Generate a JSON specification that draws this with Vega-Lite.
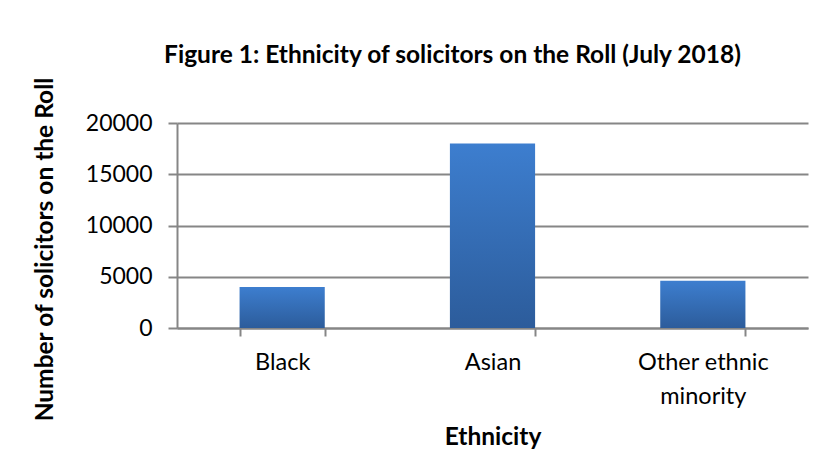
{
  "$schema": "https://vega.github.io/schema/vega-lite/v6.json",
  "autosize": "none",
  "width": 631,
  "height": 205,
  "padding": {"left": 177, "top": 123, "right": 24, "bottom": 143},
  "background": "white",
  "title": {
    "text": "Figure 1: Ethnicity of solicitors on the Roll (July 2018)",
    "font": "Lato",
    "fontSize": 24.5,
    "fontWeight": "bold",
    "color": "black",
    "anchor": "middle",
    "frame": "group",
    "dx": -40,
    "dy": 28,
    "offset": 36
  },
  "data": {
    "values": [
      {"ethnicity": "Black", "count": 4000},
      {"ethnicity": "Asian", "count": 18000},
      {"ethnicity": "Other ethnic minority", "count": 4600}
    ]
  },
  "mark": {
    "type": "bar",
    "color": {
      "gradient": "linear",
      "x1": 0, "y1": 0, "x2": 0, "y2": 1,
      "stops": [
        {"offset": 0, "color": "#3D7ECF"},
        {"offset": 1, "color": "#2C5C9B"}
      ]
    }
  },
  "encoding": {
    "x": {
      "field": "ethnicity",
      "type": "nominal",
      "sort": null,
      "scale": {"paddingInner": 0.595, "paddingOuter": 0.2975},
      "axis": {
        "title": "Ethnicity",
        "titleFont": "Lato",
        "titleFontSize": 24.5,
        "titleFontWeight": "bold",
        "titleColor": "black",
        "titlePadding": 18,
        "labelFont": "Lato",
        "labelFontSize": 23.5,
        "labelColor": "black",
        "labelAngle": 0,
        "labelPadding": 14,
        "labelLineHeight": 34,
        "labelExpr": "datum.value == 'Other ethnic minority' ? ['Other ethnic', 'minority'] : datum.value",
        "tickBand": "extent",
        "tickSize": 8,
        "tickWidth": 2,
        "tickColor": "#868686",
        "domainColor": "#868686",
        "domainWidth": 2
      }
    },
    "y": {
      "field": "count",
      "type": "quantitative",
      "scale": {"domain": [0, 20000]},
      "axis": {
        "title": "Number of solicitors on the Roll",
        "titleFont": "Lato",
        "titleFontSize": 24.5,
        "titleFontWeight": "bold",
        "titleColor": "black",
        "titleX": -132,
        "titleY": 126,
        "titleAlign": "center",
        "titleBaseline": "middle",
        "values": [0, 5000, 10000, 15000, 20000],
        "format": "d",
        "labelFont": "Lato",
        "labelFontSize": 23,
        "labelColor": "black",
        "labelPadding": 16,
        "tickSize": 9,
        "tickWidth": 2,
        "tickColor": "#868686",
        "domainColor": "#868686",
        "domainWidth": 2,
        "grid": true,
        "gridColor": "#868686",
        "gridWidth": 2
      }
    }
  },
  "config": {
    "view": {"stroke": null}
  }
}
